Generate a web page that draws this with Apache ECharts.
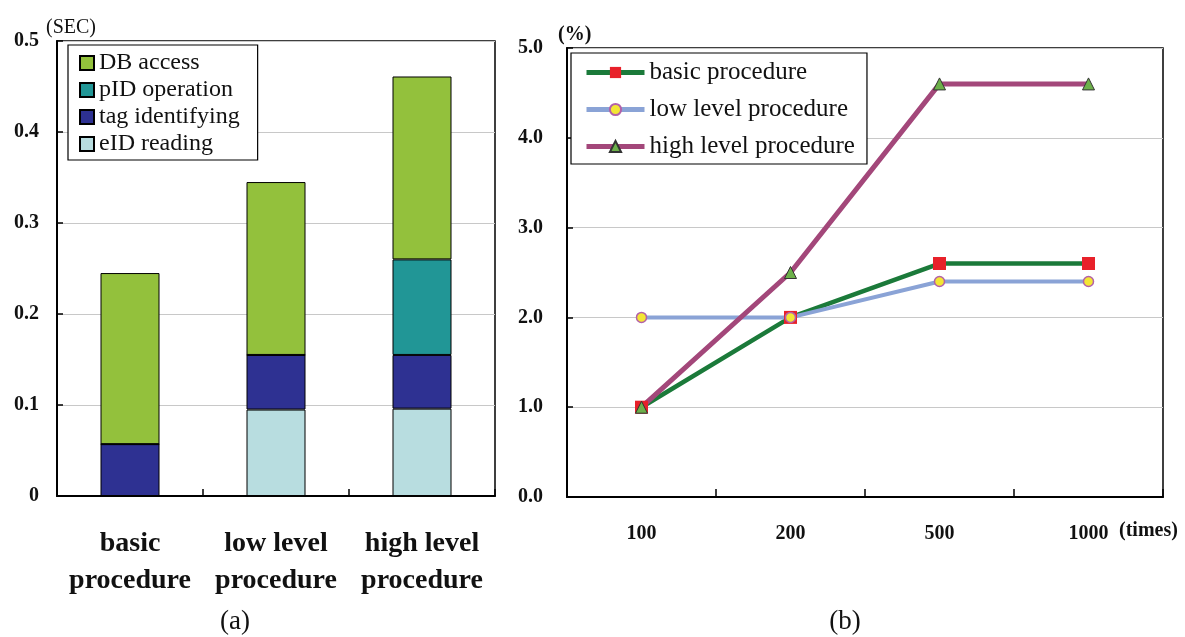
<!DOCTYPE html>
<html>
<head>
<meta charset="utf-8">
<script src="https://cdn.jsdelivr.net/npm/echarts@6/dist/echarts.min.js"></script>
<style>
html,body{margin:0;padding:0;background:#fff;}
#c{width:1185px;height:637px;}
</style>
</head>
<body>
<div id="c"></div>
<script>
// ---- Data: chart (a) ----
const procCategories = ['basic\nprocedure', 'low level\nprocedure', 'high level\nprocedure'];
const eIDReading     = [0, 0.095, 0.096];
const tagIdentifying = [0.057, 0.060, 0.059];
const pIDOperation   = [0, 0, 0.105];
const dbAccess       = [0.188, 0.190, 0.201];
const secTicks = [0, 0.1, 0.2, 0.3, 0.4, 0.5];

// ---- Data: chart (b) ----
const timesCategories = ['100', '200', '500', '1000'];
const basicProc = [1.0, 2.0, 2.6, 2.6];
const lowProc   = [2.0, 2.0, 2.4, 2.4];
const highProc  = [1.0, 2.5, 4.6, 4.6];
const pctTicks = [0, 1, 2, 3, 4, 5];

const SERIF = '"Liberation Serif", "DejaVu Serif", serif';
const chart = echarts.init(document.getElementById('c'), null, {renderer: 'canvas'});

const barBorder = {borderColor: '#000', borderWidth: 1};

chart.setOption({
  animation: false,
  backgroundColor: '#fff',
  grid: [
    {left: 57, top: 41, width: 438, height: 455, show: true, borderColor: '#000', borderWidth: 1.5, backgroundColor: 'transparent', containLabel: false},
    {left: 567, top: 48, width: 596, height: 449, show: true, borderColor: '#000', borderWidth: 1.5, backgroundColor: 'transparent', containLabel: false}
  ],
  legend: [
    {
      data: ['DB access', 'pID operation', 'tag identifying', 'eID reading'],
      orient: 'vertical', left: 68, top: 45,
      borderColor: '#000', borderWidth: 1.2, backgroundColor: '#fff',
      padding: [6, 18, 4, 11],
      itemWidth: 14, itemHeight: 14, itemGap: 3,
      icon: 'rect',
      textStyle: {fontFamily: SERIF, fontSize: 24, color: '#111', lineHeight: 24},
      selectedMode: false
    },
    {
      data: ['basic procedure', 'low level procedure', 'high level procedure'],
      orient: 'vertical', left: 571, top: 53,
      borderColor: '#000', borderWidth: 1.2, backgroundColor: '#fff',
      padding: [7, 12, 5, 13],
      itemWidth: 58, itemHeight: 14, itemGap: 12,
      lineStyle: {width: 5},
      textStyle: {fontFamily: SERIF, fontSize: 25, color: '#111', lineHeight: 25},
      selectedMode: false
    }
  ],
  xAxis: [
    {
      gridIndex: 0, type: 'category', data: procCategories,
      axisLine: {lineStyle: {color: '#000', width: 2}},
      axisTick: {show: true, inside: true, length: 7, lineStyle: {color: '#000', width: 1.5}},
      axisLabel: {interval: 0, fontFamily: SERIF, fontWeight: 'bold', fontSize: 28, color: '#111', lineHeight: 37, margin: 29},
      splitLine: {show: false}
    },
    {
      gridIndex: 1, type: 'category', data: timesCategories,
      axisLine: {lineStyle: {color: '#000', width: 2}},
      axisTick: {show: true, inside: true, length: 8, lineStyle: {color: '#000', width: 1.5}},
      axisLabel: {interval: 0, fontFamily: SERIF, fontWeight: 'bold', fontSize: 20, color: '#111', margin: 27},
      splitLine: {show: false}
    }
  ],
  yAxis: [
    {
      gridIndex: 0, type: 'value', min: secTicks[0], max: secTicks[secTicks.length - 1], interval: 0.1,
      axisLine: {show: true, lineStyle: {color: '#000', width: 2}},
      axisTick: {show: true, inside: true, length: 6, lineStyle: {color: '#000', width: 1.5}},
      axisLabel: {fontFamily: SERIF, fontWeight: 'bold', fontSize: 20, color: '#111', margin: 18},
      splitLine: {show: true, lineStyle: {color: '#c8c8c8', width: 1}}
    },
    {
      gridIndex: 1, type: 'value', min: pctTicks[0], max: pctTicks[pctTicks.length - 1], interval: 1,
      axisLine: {show: true, lineStyle: {color: '#000', width: 2}},
      axisTick: {show: true, inside: true, length: 6, lineStyle: {color: '#000', width: 1.5}},
      axisLabel: {fontFamily: SERIF, fontWeight: 'bold', fontSize: 20, color: '#111', margin: 24,
        formatter: v => v.toFixed(1)},
      splitLine: {show: true, lineStyle: {color: '#c8c8c8', width: 1}}
    }
  ],
  graphic: [
    {type: 'text', left: 46, top: 18, style: {text: '(SEC)', fontFamily: SERIF, fontSize: 20, fill: '#111'}},
    {type: 'text', left: 558, top: 25, style: {text: '(%)', fontFamily: SERIF, fontWeight: 'bold', fontSize: 20, fill: '#111'}},
    {type: 'text', left: 1119, top: 521, style: {text: '(times)', fontFamily: SERIF, fontWeight: 'bold', fontSize: 20, fill: '#111'}},
    {type: 'text', x: 235, y: 622, style: {text: '(a)', fontFamily: SERIF, fontSize: 27, fill: '#111', align: 'center', verticalAlign: 'middle'}},
    {type: 'text', x: 845, y: 622, style: {text: '(b)', fontFamily: SERIF, fontSize: 27, fill: '#111', align: 'center', verticalAlign: 'middle'}}
  ],
  series: [
    {name: 'eID reading', type: 'bar', stack: 'a', xAxisIndex: 0, yAxisIndex: 0, barWidth: 59,
      data: eIDReading, itemStyle: Object.assign({color: '#b8dde0'}, barBorder)},
    {name: 'tag identifying', type: 'bar', stack: 'a', xAxisIndex: 0, yAxisIndex: 0, barWidth: 59,
      data: tagIdentifying, itemStyle: Object.assign({color: '#2e3192'}, barBorder)},
    {name: 'pID operation', type: 'bar', stack: 'a', xAxisIndex: 0, yAxisIndex: 0, barWidth: 59,
      data: pIDOperation, itemStyle: Object.assign({color: '#219696'}, barBorder)},
    {name: 'DB access', type: 'bar', stack: 'a', xAxisIndex: 0, yAxisIndex: 0, barWidth: 59,
      data: dbAccess, itemStyle: Object.assign({color: '#93c13c'}, barBorder)},

    {name: 'basic procedure', type: 'line', xAxisIndex: 1, yAxisIndex: 1, data: basicProc,
      symbol: 'rect', symbolSize: 13, showAllSymbol: true,
      lineStyle: {color: '#1b7a3a', width: 4.5},
      itemStyle: {color: '#e8212a', borderColor: '#e8212a', borderWidth: 0}},
    {name: 'low level procedure', type: 'line', xAxisIndex: 1, yAxisIndex: 1, data: lowProc,
      symbol: 'circle', symbolSize: 10, showAllSymbol: true,
      lineStyle: {color: '#8aa3d6', width: 4},
      itemStyle: {color: '#f3e634', borderColor: '#b361a8', borderWidth: 1.5}},
    {name: 'high level procedure', type: 'line', xAxisIndex: 1, yAxisIndex: 1, data: highProc,
      symbol: 'triangle', symbolSize: 12, showAllSymbol: true,
      lineStyle: {color: '#a3477a', width: 5},
      itemStyle: {color: '#6db04a', borderColor: '#333', borderWidth: 1}}
  ]
});
</script>
</body>
</html>
